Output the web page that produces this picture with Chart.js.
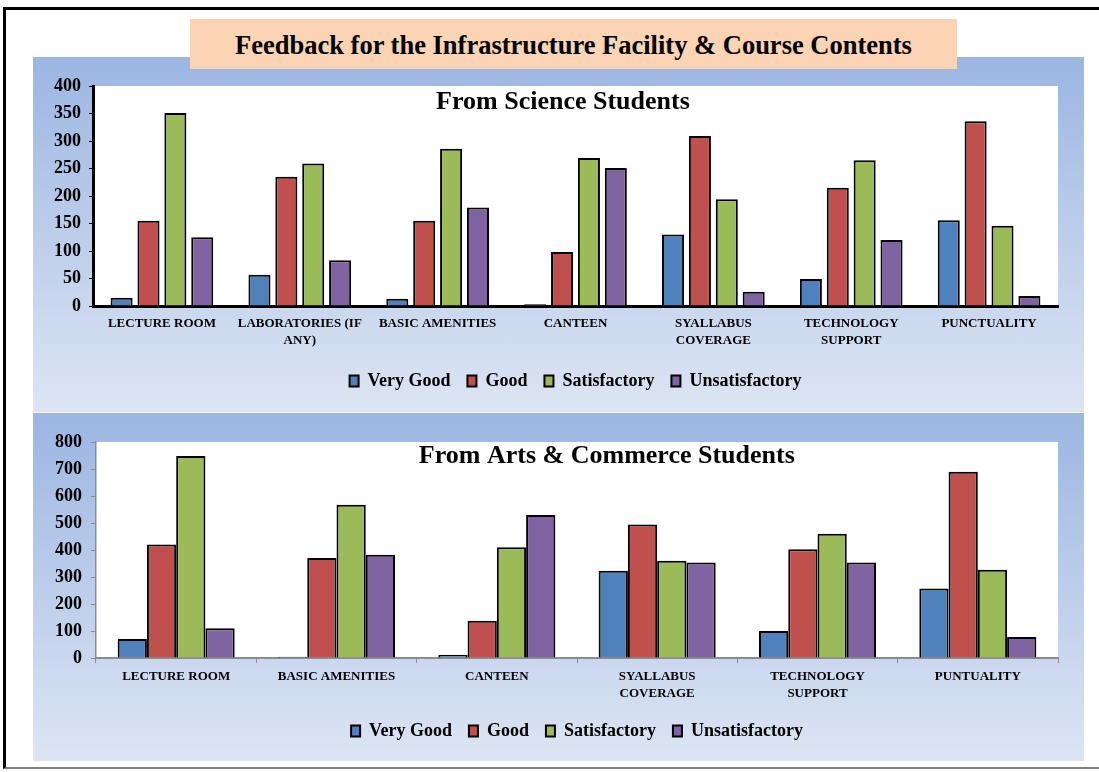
<!DOCTYPE html>
<html>
<head>
<meta charset="utf-8">
<title>Feedback for the Infrastructure Facility &amp; Course Contents</title>
<script src="https://cdn.jsdelivr.net/npm/chart.js@4.4.0/dist/chart.umd.min.js"></script>
<style>
  html, body { margin: 0; padding: 0; background: #fff; }
  body { width: 1099px; height: 772px; position: relative; overflow: hidden; font-family: "Liberation Serif", "Times New Roman", serif; }
  .frame { position: absolute; left: 3px; top: 7px; width: 1100px; height: 757px; border-top: 3px solid #000; border-left: 3px solid #000; border-bottom: 2px solid #808080; }
  .panel { position: absolute; left: 33px; width: 1051px; background: linear-gradient(to bottom, #9bb6e2, #dde5f3); }
  #panelTop { top: 57px; height: 355px; }
  #panelBottom { top: 413px; height: 348px; }
  .panel canvas { position: absolute; left: 0; top: 0; }
  .heading { position: absolute; left: 190px; top: 19px; width: 767px; height: 50px; background: #fbd4b4; font-weight: bold; font-size: 26.5px; line-height: 52px; text-align: center; color: #000; }
</style>
</head>
<body>
<div class="frame"></div>
<div class="panel" id="panelTop"><canvas id="scienceChart" width="1051" height="355"></canvas></div>
<div class="panel" id="panelBottom"><canvas id="artsChart" width="1051" height="348"></canvas></div>
<div class="heading">Feedback for the Infrastructure Facility &amp; Course Contents</div>
<script>
// series shared by both charts
const seriesNames = ['Very Good', 'Good', 'Satisfactory', 'Unsatisfactory'];
const seriesColors = ['#4f81bd', '#c0504d', '#9bbb59', '#8064a2'];

// From Science Students
const scienceLabels = [
  ['LECTURE ROOM'],
  ['LABORATORIES (IF', 'ANY)'],
  ['BASIC AMENITIES'],
  ['CANTEEN'],
  ['SYALLABUS', 'COVERAGE'],
  ['TECHNOLOGY', 'SUPPORT'],
  ['PUNCTUALITY']
];
const scienceVeryGood = [15, 57, 13, 3, 130, 49, 156];
const scienceGood = [155, 235, 155, 98, 309, 215, 336];
const scienceSatisfactory = [351, 259, 286, 269, 194, 265, 146];
const scienceUnsatisfactory = [125, 83, 179, 251, 26, 120, 18];
const scienceMax = 400;
const scienceStep = 50;

// From Arts & Commerce Students
const artsLabels = [
  ['LECTURE ROOM'],
  ['BASIC AMENITIES'],
  ['CANTEEN'],
  ['SYALLABUS', 'COVERAGE'],
  ['TECHNOLOGY', 'SUPPORT'],
  ['PUNTUALITY']
];
const artsVeryGood = [70, 5, 12, 323, 100, 257];
const artsGood = [420, 370, 138, 494, 403, 690];
const artsSatisfactory = [748, 568, 410, 360, 460, 327];
const artsUnsatisfactory = [110, 382, 530, 354, 354, 78];
const artsMax = 800;
const artsStep = 100;

Chart.defaults.font.family = '"Liberation Serif", "Times New Roman", serif';
Chart.defaults.color = '#000';

// white plot area on top of the blue panel
const plotBackground = {
  id: 'plotBackground',
  beforeDraw(chart) {
    const { ctx, chartArea } = chart;
    ctx.save();
    ctx.fillStyle = '#fff';
    ctx.fillRect(chartArea.left, chartArea.top, chartArea.width, chartArea.height);
    ctx.restore();
  }
};

// subtitle sits inside the plot area, not above it
const innerTitle = {
  id: 'innerTitle',
  afterDraw(chart, args, opts) {
    const { ctx, chartArea } = chart;
    ctx.save();
    ctx.font = 'bold 26px "Liberation Serif", serif';
    ctx.fillStyle = '#000';
    ctx.textAlign = 'center';
    ctx.textBaseline = 'middle';
    ctx.fillText(opts.text, chartArea.left + chartArea.width * opts.x, chartArea.top + opts.y);
    ctx.restore();
  }
};

function buildDatasets(values, barPct, catPct) {
  return values.map((data, i) => ({
    label: seriesNames[i],
    data: data,
    backgroundColor: seriesColors[i],
    borderColor: '#000',
    borderWidth: 2,
    barPercentage: barPct,
    categoryPercentage: catPct
  }));
}

function legendOptions() {
  return {
    position: 'bottom',
    fullSize: false,
    labels: {
      boxWidth: 9,
      boxHeight: 11,
      padding: 17,
      color: '#000',
      font: { size: 18, weight: 'bold' }
    }
  };
}

new Chart(document.getElementById('scienceChart'), {
  type: 'bar',
  data: {
    labels: scienceLabels,
    datasets: buildDatasets([scienceVeryGood, scienceGood, scienceSatisfactory, scienceUnsatisfactory], 0.82, 0.78)
  },
  options: {
    responsive: false,
    animation: false,
    devicePixelRatio: 1,
    layout: { padding: { top: 29, right: 26, bottom: 12, left: 0 } },
    plugins: {
      legend: legendOptions(),
      tooltip: { enabled: false },
      innerTitle: { text: 'From Science Students', x: 0.487, y: 16 }
    },
    scales: {
      x: {
        grid: { display: false, drawTicks: false },
        border: { display: true, color: '#000', width: 3 },
        ticks: { autoSkip: false, maxRotation: 0, padding: 10, color: '#000', font: { size: 13, weight: 'bold', lineHeight: 1.25 } },
        afterFit: s => { s.height = 49; }
      },
      y: {
        min: 0,
        max: scienceMax,
        grid: { drawOnChartArea: false, drawTicks: true, tickLength: 4, color: '#000' },
        border: { display: true, color: '#000', width: 3 },
        ticks: { stepSize: scienceStep, padding: 8, color: '#000', font: { size: 18, weight: 'bold' } },
        afterFit: s => { s.width = 60; }
      }
    }
  },
  plugins: [plotBackground, innerTitle]
});

new Chart(document.getElementById('artsChart'), {
  type: 'bar',
  data: {
    labels: artsLabels,
    datasets: buildDatasets([artsVeryGood, artsGood, artsSatisfactory, artsUnsatisfactory], 1.0, 0.73)
  },
  options: {
    responsive: false,
    animation: false,
    devicePixelRatio: 1,
    layout: { padding: { top: 29, right: 26, bottom: 11, left: 0 } },
    plugins: {
      legend: legendOptions(),
      tooltip: { enabled: false },
      innerTitle: { text: 'From Arts & Commerce Students', x: 0.531, y: 14 }
    },
    scales: {
      x: {
        grid: { display: true, drawOnChartArea: false, drawTicks: true, tickLength: 5, color: '#8c8c8c' },
        border: { display: true, color: '#8c8c8c', width: 2 },
        ticks: { autoSkip: false, maxRotation: 0, padding: 6, color: '#000', font: { size: 13, weight: 'bold', lineHeight: 1.25 } },
        afterFit: s => { s.height = 47; }
      },
      y: {
        min: 0,
        max: artsMax,
        grid: { drawOnChartArea: false, drawTicks: true, tickLength: 5, color: '#8c8c8c' },
        border: { display: true, color: '#8c8c8c', width: 1.5 },
        ticks: { stepSize: artsStep, padding: 9, color: '#000', font: { size: 18, weight: 'bold' } },
        afterFit: s => { s.width = 63; }
      }
    }
  },
  plugins: [plotBackground, innerTitle]
});
</script>
</body>
</html>
